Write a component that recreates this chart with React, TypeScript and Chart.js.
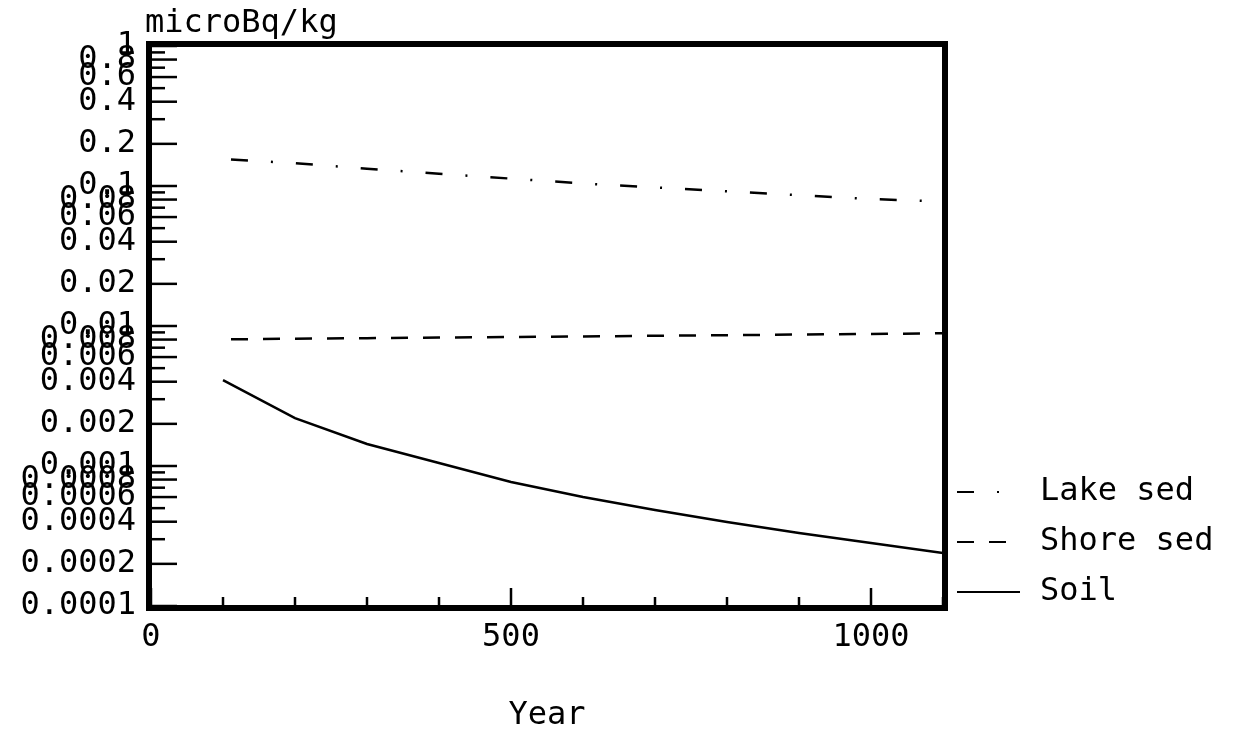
import { useEffect, useRef } from 'react';
import { Chart, registerables } from 'chart.js';

Chart.register(...registerables);

const years = [100, 200, 300, 400, 500, 600, 700, 800, 900, 1000, 1100];
const lakeSed = [0.156, 0.1455, 0.133, 0.1222, 0.1129, 0.1042, 0.0976, 0.0917, 0.086, 0.0807, 0.0775];
const shoreSed = [0.00803, 0.00811, 0.00819, 0.00827, 0.00835, 0.00843, 0.00851, 0.0086, 0.00869, 0.00878, 0.00887];
const soil = [0.00411, 0.0022, 0.001436, 0.00105, 0.000769, 0.000601, 0.000485, 0.000398, 0.000332, 0.000282, 0.000239];

const seriesNames = ['Lake sed', 'Shore sed', 'Soil'];

const xTickValues = [0, 100, 200, 300, 400, 500, 600, 700, 800, 900, 1000, 1100];
const xTickLabels = ['0', '500', '1000'];

const yTickValues = [
  1, 0.9, 0.8, 0.7, 0.6, 0.5, 0.4, 0.3, 0.2,
  0.1, 0.09, 0.08, 0.07, 0.06, 0.05, 0.04, 0.03, 0.02,
  0.01, 0.009, 0.008, 0.007, 0.006, 0.005, 0.004, 0.003, 0.002,
  0.001, 0.0009, 0.0008, 0.0007, 0.0006, 0.0005, 0.0004, 0.0003, 0.0002,
  0.0001,
];
const yTickLabels = [
  '1', '0.8', '0.6', '0.4', '0.2',
  '0.1', '0.08', '0.06', '0.04', '0.02',
  '0.01', '0.008', '0.006', '0.004', '0.002',
  '0.001', '0.0008', '0.0006', '0.0004', '0.0002',
  '0.0001',
];

const yTitle = 'microBq/kg';
const xTitle = 'Year';

const FONT = "'DejaVu Sans Mono', 'Liberation Mono', monospace";

const framePlugin = {
  id: 'framePlugin',
  afterDatasetsDraw(chart: any) {
    const { ctx, chartArea } = chart;
    const { left, right, top, bottom } = chartArea;
    const xs = chart.scales.x;
    const ys = chart.scales.y;
    ctx.save();
    ctx.strokeStyle = '#000';
    ctx.lineCap = 'butt';

    // inner ticks on y axis
    ctx.lineWidth = 2.5;
    yTickValues.forEach((v) => {
      const py = ys.getPixelForValue(v);
      const labeled = yTickLabels.includes(String(v));
      const len = labeled ? 26 : 14;
      ctx.beginPath();
      ctx.moveTo(left, py);
      ctx.lineTo(left + len, py);
      ctx.stroke();
    });

    // inner ticks on x axis
    xTickValues.forEach((v) => {
      const px = xs.getPixelForValue(v);
      const labeled = xTickLabels.includes(String(v));
      const len = labeled ? 18 : 9;
      ctx.beginPath();
      ctx.moveTo(px, bottom);
      ctx.lineTo(px, bottom - len);
      ctx.stroke();
    });

    // thick frame
    ctx.lineWidth = 6;
    ctx.strokeRect(left - 2, top - 2, right - left + 4, bottom - top + 4);

    // titles
    ctx.fillStyle = '#000';
    ctx.font = `32px ${FONT}`;
    ctx.textAlign = 'left';
    ctx.textBaseline = 'alphabetic';
    ctx.fillText(yTitle, 145, 32);
    ctx.textAlign = 'center';
    ctx.textBaseline = 'middle';
    ctx.fillText(xTitle, (left + right) / 2, 716);

    // legend
    const ds = chart.data.datasets;
    ds.forEach((d: any, i: number) => {
      const ly = 492 + i * 50;
      ctx.save();
      ctx.lineWidth = 2;
      ctx.setLineDash(d.borderDash || []);
      ctx.lineDashOffset = 0;
      ctx.beginPath();
      ctx.moveTo(957, ly);
      ctx.lineTo(i === 1 ? 1006 : 1020, ly);
      ctx.stroke();
      ctx.restore();
      ctx.textAlign = 'left';
      ctx.textBaseline = 'middle';
      ctx.fillText(d.label, 1040, ly);
    });
    ctx.restore();
  },
};

export default function App() {
  const canvasRef = useRef<HTMLCanvasElement | null>(null);

  useEffect(() => {
    document.body.style.margin = '0';
    const canvas = canvasRef.current;
    if (!canvas) return;
    const chart = new Chart(canvas, {
      type: 'line',
      data: {
        labels: years,
        datasets: [
          {
            label: seriesNames[0],
            data: years.map((y, i) => ({ x: y, y: lakeSed[i] })),
            borderColor: '#000',
            borderWidth: 2.5,
            borderDash: [17, 23, 2, 23],
            borderDashOffset: 57,
            pointRadius: 0,
            tension: 0,
            fill: false,
          },
          {
            label: seriesNames[1],
            data: years.map((y, i) => ({ x: y, y: shoreSed[i] })),
            borderColor: '#000',
            borderWidth: 2.5,
            borderDash: [17, 15],
            borderDashOffset: 24,
            pointRadius: 0,
            tension: 0,
            fill: false,
          },
          {
            label: seriesNames[2],
            data: years.map((y, i) => ({ x: y, y: soil[i] })),
            borderColor: '#000',
            borderWidth: 2.5,
            pointRadius: 0,
            tension: 0,
            fill: false,
          },
        ],
      },
      options: {
        animation: false,
        responsive: true,
        maintainAspectRatio: false,
        layout: { padding: { left: 0, top: 46, right: 291, bottom: 0 } },
        plugins: {
          legend: { display: false },
          tooltip: { enabled: false },
          title: { display: false },
        },
        scales: {
          x: {
            type: 'linear',
            min: 0,
            max: 1100,
            grid: { display: false, drawTicks: false },
            border: { display: false },
            afterBuildTicks: (scale: any) => {
              scale.ticks = xTickValues.map((v) => ({ value: v }));
            },
            afterFit: (scale: any) => {
              scale.height = 132;
            },
            ticks: {
              autoSkip: false,
              maxRotation: 0,
              padding: 12,
              color: '#000',
              font: { family: FONT, size: 32 },
              callback: (value: any) => (xTickLabels.includes(String(value)) ? String(value) : ''),
            },
          },
          y: {
            type: 'logarithmic',
            min: 0.0001,
            max: 1,
            grid: { display: false, drawTicks: false },
            border: { display: false },
            afterBuildTicks: (scale: any) => {
              scale.ticks = yTickValues.map((v) => ({ value: v }));
            },
            afterFit: (scale: any) => {
              scale.width = 151;
            },
            ticks: {
              autoSkip: false,
              padding: 15,
              color: '#000',
              font: { family: FONT, size: 32 },
              callback: (value: any) => (yTickLabels.includes(String(value)) ? String(value) : ''),
            },
          },
        },
      },
      plugins: [framePlugin],
    });
    return () => chart.destroy();
  }, []);

  return (
    <div style={{ position: 'fixed', left: 0, top: 0, width: 1234, height: 738, background: '#fff' }}>
      <canvas ref={canvasRef} />
    </div>
  );
}
